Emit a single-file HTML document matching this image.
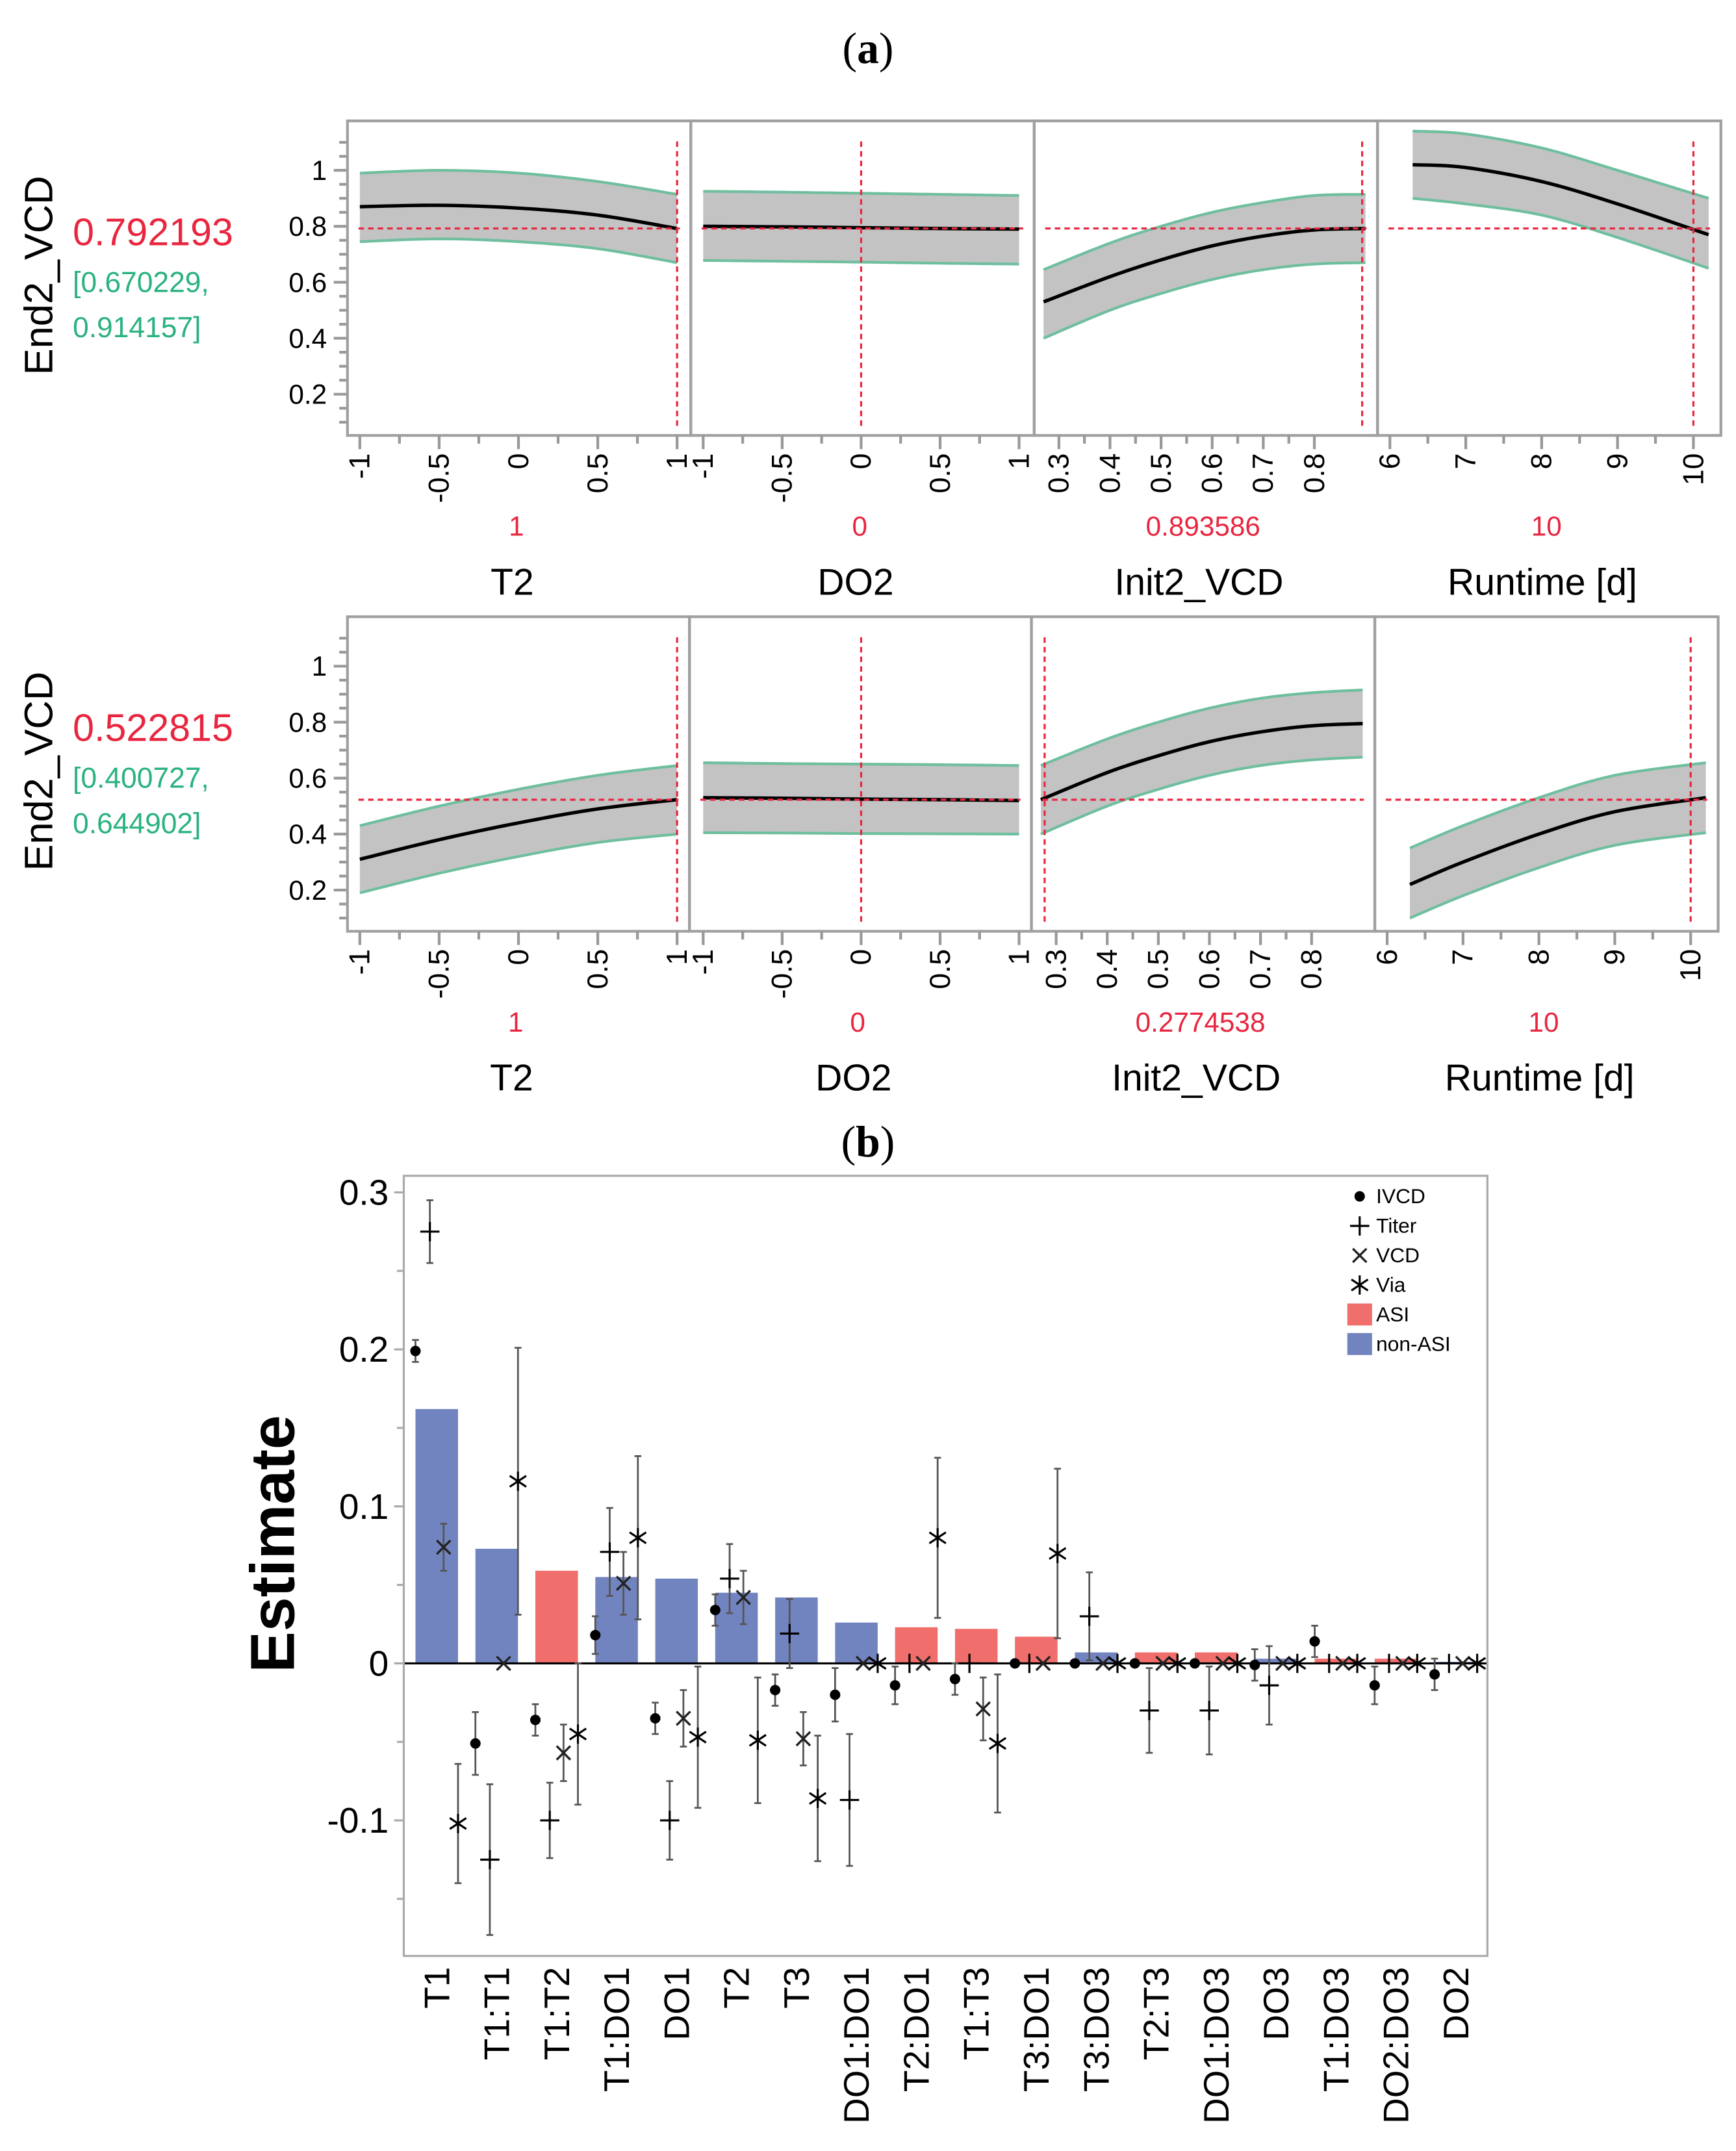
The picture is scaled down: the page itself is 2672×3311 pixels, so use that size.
<!DOCTYPE html>
<html><head><meta charset="utf-8"><style>
html,body{margin:0;padding:0;background:#fff;}
svg{display:block;font-family:"Liberation Sans",sans-serif;}
</style></head><body>
<svg id="fig" width="2672" height="3311" viewBox="0 0 1264 1566" preserveAspectRatio="none" xmlns="http://www.w3.org/2000/svg">
<rect width="1264" height="1566" fill="#fff"/>
<text x="632" y="46" text-anchor="middle" font-family="Liberation Serif" font-size="32">(<tspan font-weight="bold">a</tspan>)</text>
<text x="632" y="842" text-anchor="middle" font-family="Liberation Serif" font-size="32">(<tspan font-weight="bold">b</tspan>)</text>
<g id="prof"></g>
<g id="bars"></g>
</svg>
<script>
const NS="http://www.w3.org/2000/svg";
// ---- profiler data ----
const t2X=[-1,-0.5,0,0.5,1];
const do2X=[-1,-0.5,0,0.5,1];
const initX=[0.27,0.4,0.5,0.6,0.7,0.8,0.9];
const runX=[6.3,7,8,9,10.2];
const topT2Mean=[0.87,0.875,0.865,0.84,0.792], topT2Lo=[0.745,0.755,0.745,0.72,0.67], topT2Hi=[0.99,1.0,0.99,0.96,0.914];
const topDO2Mean=[0.80,0.798,0.795,0.792,0.79], topDO2Lo=[0.678,0.675,0.672,0.668,0.665], topDO2Hi=[0.925,0.922,0.918,0.914,0.91];
const topInitMean=[0.53,0.62,0.68,0.73,0.765,0.787,0.792], topInitLo=[0.40,0.50,0.56,0.61,0.645,0.665,0.67], topInitHi=[0.645,0.74,0.80,0.85,0.885,0.91,0.914];
const topRunMean=[1.02,1.01,0.96,0.88,0.77], topRunLo=[0.9,0.88,0.84,0.76,0.65], topRunHi=[1.14,1.13,1.08,1.0,0.9];
const botT2Mean=[0.31,0.38,0.44,0.49,0.523], botT2Lo=[0.19,0.26,0.32,0.37,0.40], botT2Hi=[0.43,0.50,0.56,0.61,0.645];
const botDO2Mean=[0.53,0.528,0.525,0.523,0.52], botDO2Lo=[0.405,0.404,0.402,0.401,0.40], botDO2Hi=[0.655,0.652,0.65,0.648,0.645];
const botInitMean=[0.523,0.62,0.68,0.73,0.765,0.787,0.795], botInitLo=[0.40,0.50,0.56,0.61,0.645,0.665,0.675], botInitHi=[0.645,0.74,0.80,0.85,0.885,0.905,0.915];
const botRunMean=[0.22,0.30,0.40,0.48,0.53], botRunLo=[0.10,0.18,0.28,0.36,0.405], botRunHi=[0.35,0.43,0.53,0.61,0.655];
const rowValues=["0.792193","0.522815"];
const rowLo=["[0.670229,","[0.400727,"];
const rowHi=["0.914157]","0.644902]"];
const rowY=[0.792193,0.522815];
const rowCur=[[1,0,0.893586,10],[1,0,0.2774538,10]];
const rowCurLbl=[["1","0","0.893586","10"],["1","0","0.2774538","10"]];
const yTicks=[0.2,0.4,0.6,0.8,1];
const facTitles=["T2","DO2","Init2_VCD","Runtime [d]"];
const t2Ticks=["-1","-0.5","0","0.5","1"], initTicks=["0.3","0.4","0.5","0.6","0.7","0.8"], runTicks=["6","7","8","9","10"];

function el(tag,attrs,parent,txt){const e=document.createElementNS(NS,tag);for(const k in attrs)e.setAttribute(k,attrs[k]);if(txt!==undefined)e.textContent=txt;parent.appendChild(e);return e;}
const prof=document.getElementById('prof');
const rows=[
 {top:88,bot:317,y1:124,boxes:[[253,503],[503,753],[753,1003],[1003,1253]],ax:[[262,493,-1,1],[512,742,-1,1],[771,957,0.3,0.8],[1012,1233,6,10]],
  data:[[t2X,topT2Mean,topT2Lo,topT2Hi],[do2X,topDO2Mean,topDO2Lo,topDO2Hi],[initX,topInitMean,topInitLo,topInitHi],[runX,topRunMean,topRunLo,topRunHi]]},
 {top:449,bot:678,y1:485,boxes:[[253,502],[502,751],[751,1001],[1001,1251]],ax:[[262,493,-1,1],[512,742,-1,1],[769,955,0.3,0.8],[1010,1231,6,10]],
  data:[[t2X,botT2Mean,botT2Lo,botT2Hi],[do2X,botDO2Mean,botDO2Lo,botDO2Hi],[initX,botInitMean,botInitLo,botInitHi],[runX,botRunMean,botRunLo,botRunHi]]}
];
rows.forEach((r,ri)=>{
 const g=el('g',{},prof);
 
 
 const yv=v=>r.y1+(1-v)*203.75;
 const cy=(r.top+r.bot)/2;
 const yl=el('text',{x:0,y:0,transform:`translate(38,${cy-2}) rotate(-90)`,'text-anchor':'middle','font-size':29},g,'End2_VCD');
 
 const v=el('text',{x:53,y:cy-24,'font-size':28,fill:'#e8263f'},g,rowValues[ri]);
 
 const l1=el('text',{x:53,y:cy+10,'font-size':21,fill:'#2ab27f'},g,rowLo[ri]);
 
 const l2=el('text',{x:53,y:cy+43,'font-size':21,fill:'#2ab27f'},g,rowHi[ri]);
 
 for(let t=0.1;t<=1.15;t+=0.05){const yy=yv(t);const maj=yTicks.some(k=>Math.abs(k-t)<1e-6);
  el('line',{x1:maj?243:247,x2:253,y1:yy,y2:yy,stroke:'#999','stroke-width':2},g);}
 yTicks.forEach(t=>{const tx=el('text',{x:238,y:yv(t)+7,'text-anchor':'end','font-size':20},g,String(t));
  });
 r.boxes.forEach((b,bi)=>{
  const [x0,x1,v0,v1]=r.ax[bi];
  const xs=x=>x0+(x-v0)*(x1-x0)/(v1-v0);
  const [dx,m,lo,hi]=r.data[bi];
  let band='M'+dx.map((x,i)=>xs(x)+','+yv(hi[i])).join(' L')+' L'+dx.map((x,i)=>xs(x)+','+yv(lo[i])).reverse().join(' L')+' Z';
  const bp=el('path',{d:band,fill:'#c4c3c4'},g);
  
  const mk=a=>{let pts=[];for(let i=0;i<dx.length-1;i++){for(let s=0;s<10;s++){const t=s/10;const i0=Math.max(0,i-1),i3=Math.min(dx.length-1,i+2);
     const cr=(p0,p1,p2,p3)=>0.5*((2*p1)+(-p0+p2)*t+(2*p0-5*p1+4*p2-p3)*t*t+(-p0+3*p1-3*p2+p3)*t*t*t);
     pts.push(cr(xs(dx[i0]),xs(dx[i]),xs(dx[i+1]),xs(dx[i3]))+','+cr(yv(a[i0]),yv(a[i]),yv(a[i+1]),yv(a[i3])));}}
   pts.push(xs(dx[dx.length-1])+','+yv(a[a.length-1]));return 'M'+pts.join(' L');};
  const ph=el('path',{d:mk(hi),fill:'none',stroke:'#6fbf9f','stroke-width':2},g);
  
  const pl=el('path',{d:mk(lo),fill:'none',stroke:'#6fbf9f','stroke-width':2},g);
  
  const pm=el('path',{d:mk(m),fill:'none',stroke:'#000','stroke-width':2.5},g);
  
  const hy=yv(rowY[ri]);
  el('line',{x1:b[0]+8,x2:b[1]-8,y1:hy,y2:hy,stroke:'#e8263f','stroke-width':1.5,'stroke-dasharray':'4,3'},g);
  const vx=xs(rowCur[ri][bi]);
  el('line',{x1:vx,x2:vx,y1:r.top+15,y2:r.bot-5,stroke:'#e8263f','stroke-width':1.5,'stroke-dasharray':'4,3'},g);
  const box=el('rect',{x:b[0],y:r.top,width:b[1]-b[0],height:r.bot-r.top,fill:'none',stroke:'#a0a0a0','stroke-width':2},g);
  
  let labs= bi<2?t2Ticks:(bi==2?initTicks:runTicks);
  let step=bi<2?0.25:(bi==2?0.05:0.5);
  for(let t=v0;t<=v1+1e-6;t+=step){const xx=xs(t);const maj=labs.some(k=>Math.abs(parseFloat(k)-t)<1e-6);
   el('line',{x1:xx,x2:xx,y1:r.bot,y2:r.bot+(maj?10:6),stroke:'#999','stroke-width':2},g);}
  labs.forEach(lb=>{const xx=xs(parseFloat(lb));
   const tx=el('text',{x:0,y:0,transform:`translate(${xx+7},${r.bot+13}) rotate(-90)`,'text-anchor':'end','font-size':21},g,lb);
   });
  const cx=(b[0]+b[1])/2;
  const cl=el('text',{x:cx-2,y:r.bot+73,'text-anchor':'middle','font-size':20,fill:'#e8263f'},g,rowCurLbl[ri][bi]);
  
  const ft=el('text',{x:cx-5,y:r.bot+116,'text-anchor':'middle','font-size':27},g,facTitles[bi]);
  
 });
});

// ---- bar chart data ----
const terms=["T1","T1:T1","T1:T2","T1:DO1","DO1","T2","T3","DO1:DO1","T2:DO1","T1:T3","T3:DO1","T3:DO3","T2:T3","DO1:DO3","DO3","T1:DO3","DO2:DO3","DO2"];
const barVals=[0.162,0.073,0.059,0.055,0.054,0.045,0.042,0.026,0.023,0.022,0.017,0.007,0.007,0.007,0.003,0.003,0.003,0.001];
const barASI=[0,0,1,0,0,0,0,0,1,1,1,0,1,1,0,1,1,0];
const ivcd=[0.199,-0.051,-0.036,0.018,-0.035,0.034,-0.017,-0.02,-0.014,-0.01,0,0,0,0,-0.001,0.014,-0.014,-0.007];
const ivcdErr=[0.007,0.02,0.01,0.012,0.01,0.01,0.01,0.017,0.012,0.01,0,0,0,0,0.01,0.01,0.012,0.01];
const titer=[0.275,-0.125,-0.1,0.071,-0.1,0.054,0.019,-0.087,0,0,0,0.03,-0.03,-0.03,-0.014,0,0,0];
const titerErr=[0.02,0.048,0.024,0.028,0.025,0.022,0.022,0.042,0,0,0,0.028,0.027,0.028,0.025,0,0,0];
const vcd=[0.074,0,-0.057,0.051,-0.035,0.042,-0.048,0,0,-0.029,0,0,0,0,0,0,0,0];
const vcdErr=[0.015,0,0.018,0.02,0.018,0.017,0.017,0,0,0.02,0,0,0,0,0,0,0,0];
const via=[-0.102,0.116,-0.045,0.08,-0.047,-0.049,-0.086,0,0.08,-0.051,0.07,0,0,0,0,0,0,0];
const viaErr=[0.038,0.085,0.045,0.052,0.045,0.04,0.04,0,0.051,0.044,0.054,0,0,0,0,0,0,0];
const yTicksB=["-0.1","0","0.1","0.2","0.3"];

const bg=document.getElementById('bars');
const X0=294,X1=1083,Y0=856,Y1=1424;
const yB=v=>1211-v*1143;
const xB=i=>318+i*43.65;
const yt=el('text',{x:0,y:0,transform:'translate(214,1124) rotate(-90)','text-anchor':'middle','font-size':45,'font-weight':'bold'},bg,'Estimate');

for(let t=-0.15;t<=0.3+1e-6;t+=0.05){const yy=yB(t);const maj=Math.abs(Math.round(t*10)-t*10)<1e-6;
 el('line',{x1:maj?287:289,x2:X0,y1:yy,y2:yy,stroke:'#aaa','stroke-width':1.5},bg);}
yTicksB.forEach(t=>{const tx=el('text',{x:283,y:yB(parseFloat(t))+9,'text-anchor':'end','font-size':26},bg,t);
 });
terms.forEach((t,i)=>{
 const v=barVals[i];
 const r=el('rect',{x:xB(i)-15.5,y:yB(v),width:31,height:yB(0)-yB(v),fill:barASI[i]?'#f06e6b':'#7284c0'},bg);
 
 
 const tx=el('text',{x:0,y:0,transform:`translate(${xB(i)+9},1432) rotate(-90)`,'text-anchor':'end','font-size':26},bg,t);
 
});
el('line',{x1:X0,x2:X1,y1:yB(0),y2:yB(0),stroke:'#000','stroke-width':1.5},bg);
function marker(type,x,y,g){
 const s=5;
 if(type==0){el('circle',{cx:x,cy:y,r:3.8,fill:'#000'},g);}
 else if(type==1){el('path',{d:`M${x-7},${y}H${x+7}M${x},${y-7}V${y+7}`,stroke:'#000','stroke-width':1.5},g);}
 else if(type==2){el('path',{d:`M${x-s},${y-s}L${x+s},${y+s}M${x-s},${y+s}L${x+s},${y-s}`,stroke:'#222','stroke-width':1.6},g);}
 else {el('path',{d:`M${x-6},${y-4}L${x+6},${y+4}M${x-6},${y+4}L${x+6},${y-4}M${x},${y-7}V${y+7}`,stroke:'#000','stroke-width':1.5},g);}
}
const series=[[ivcd,ivcdErr,'ivcd'],[titer,titerErr,'titer'],[vcd,vcdErr,'vcd'],[via,viaErr,'via']];
const offs=[-15.5,-5,5,15.5];
series.forEach((s,si)=>{
 s[0].forEach((v,i)=>{
  const g=el('g',{},bg);
  
  
  const x=xB(i)+offs[si];
  if(s[1][i]>0){const a=yB(v+s[1][i]),b=yB(v-s[1][i]);
   el('path',{d:`M${x},${a}V${b}M${x-2.5},${a}H${x+2.5}M${x-2.5},${b}H${x+2.5}`,stroke:'#555','stroke-width':1.3},g);}
  marker(si,x,yB(v),g);
 });
});
const fr=el('rect',{x:X0,y:Y0,width:X1-X0,height:Y1-Y0,fill:'none',stroke:'#aaa','stroke-width':1.5},bg);

const legNames=["IVCD","Titer","VCD","Via","ASI","non-ASI"];
const lg=el('g',{},bg);


legNames.forEach((n,i)=>{
 const y=871+i*21.5;
 const e=el('g',{},lg);
 
 
 if(i<4)marker(i,990,y,e);
 else el('rect',{x:981,y:y-8,width:18,height:16,fill:i==4?'#f06e6b':'#7284c0'},e);
 el('text',{x:1002,y:y+5,'font-size':15},e,n);
});
</script>
</body></html>
